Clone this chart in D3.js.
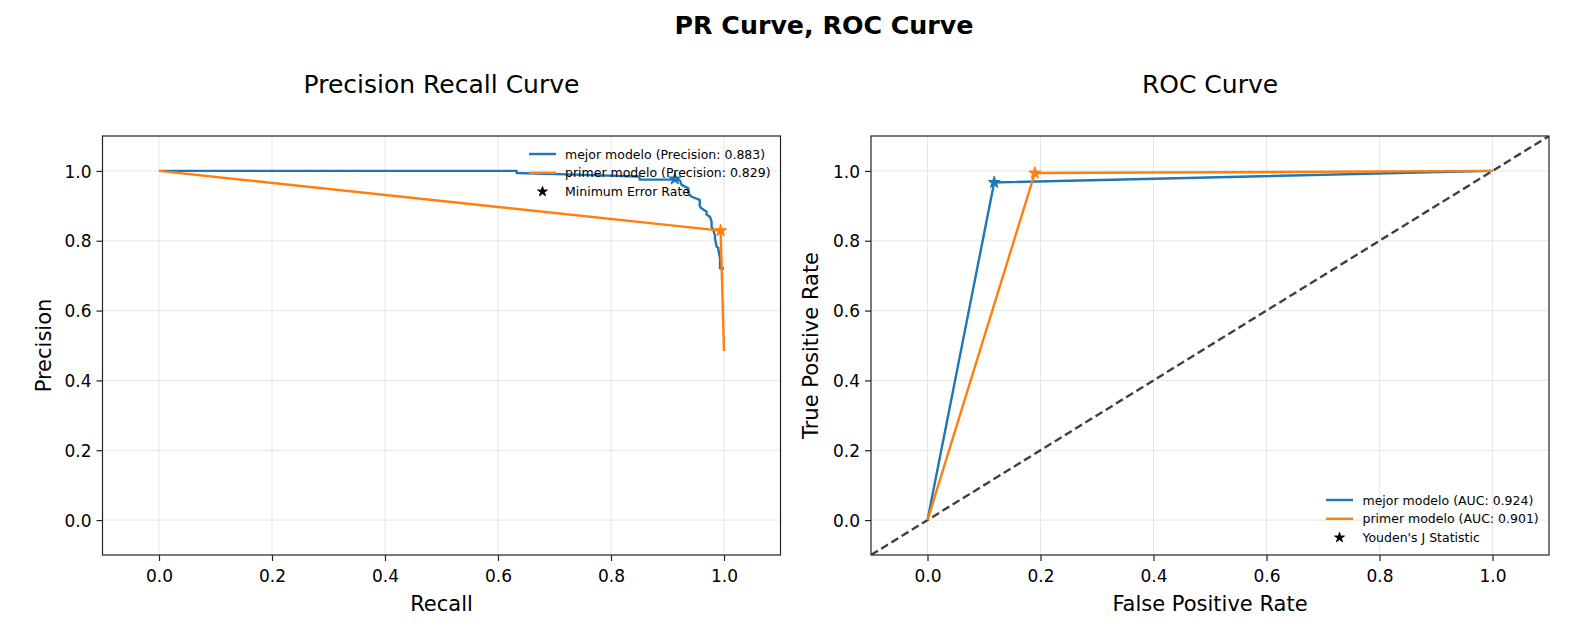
<!DOCTYPE html>
<html>
<head>
<meta charset="utf-8">
<script src="https://cdn.jsdelivr.net/npm/d3@7"></script>
<style>
  body { margin: 0; background: #fff; }
  svg { display: block; }
  text { font-family: "DejaVu Sans", sans-serif; fill: #000; }
</style>
</head>
<body>
<svg id="chart" width="1588" height="639"></svg>
<script>
// ---------- DATA ----------
const tickValues = [0.0, 0.2, 0.4, 0.6, 0.8, 1.0];
const tickLabels = ["0.0", "0.2", "0.4", "0.6", "0.8", "1.0"];

// PR curve - mejor modelo
const prBestRecall    = [0, 0.633, 0.633, 0.72, 0.85, 0.851, 0.913, 0.922, 0.925, 0.937, 0.937, 0.943, 0.957, 0.957, 0.960, 0.969, 0.969, 0.975, 0.978, 0.978, 0.981, 0.984, 0.984, 0.987, 0.990, 0.990, 0.993, 0.993, 1.0];
const prBestPrecision = [1.0, 1.0, 0.994, 0.990, 0.984, 0.975, 0.975, 0.973, 0.960, 0.950, 0.935, 0.926, 0.917, 0.900, 0.893, 0.884, 0.875, 0.869, 0.855, 0.840, 0.831, 0.815, 0.807, 0.783, 0.780, 0.774, 0.750, 0.721, 0.721];
// PR curve - primer modelo
const prFirstRecall    = [0, 0.994, 1.0];
const prFirstPrecision = [1.0, 0.829, 0.484];
// Minimum error rate points [recall, precision]
const prStarBest  = [0.913, 0.977];
const prStarFirst = [0.994, 0.829];

// ROC curve
const rocBestFpr  = [0, 0.118, 1.0];
const rocBestTpr  = [0, 0.967, 1.0];
const rocFirstFpr = [0, 0.190, 1.0];
const rocFirstTpr = [0, 0.994, 1.0];
const rocStarBest  = [0.118, 0.967];
const rocStarFirst = [0.190, 0.994];
const diagonal = [[-0.1, -0.1], [1.1, 1.1]];

const prLegend  = ["mejor modelo (Precision: 0.883)", "primer modelo (Precision: 0.829)", "Minimum Error Rate"];
const rocLegend = ["mejor modelo (AUC: 0.924)", "primer modelo (AUC: 0.901)", "Youden's J Statistic"];

const BLUE = "#1f77b4", ORANGE = "#ff7f0e";
const LW = 2.4;

// ---------- LAYOUT ----------
const svg = d3.select("#chart");
const yTop = 136, yBottom = 555;
const panels = [
  { x0: 102.5, x1: 780.5, title: "Precision Recall Curve", xlabel: "Recall", ylabel: "Precision", ylabelX: 51 },
  { x0: 871,   x1: 1549,  title: "ROC Curve", xlabel: "False Positive Rate", ylabel: "True Positive Rate", ylabelX: 817.5 }
];

svg.append("text").attr("x", 824).attr("y", 34).attr("text-anchor", "middle")
  .style("font-size", "25.3px").style("font-weight", "bold").text("PR Curve, ROC Curve");

const star = (r) => d3.symbol().type(d3.symbolStar).size(r * r / 0.8908130915292852)();

function drawPanel(p, idx) {
  const x = d3.scaleLinear().domain([-0.1, 1.1]).range([p.x0, p.x1]);
  const y = d3.scaleLinear().domain([-0.1, 1.1]).range([yBottom, yTop]);
  const g = svg.append("g");
  const clipId = "clip" + idx;
  svg.append("defs").append("clipPath").attr("id", clipId).append("rect")
    .attr("x", p.x0).attr("y", yTop).attr("width", p.x1 - p.x0).attr("height", yBottom - yTop);

  // grid
  g.append("g").selectAll("line").data(tickValues).join("line")
    .attr("x1", d => x(d)).attr("x2", d => x(d)).attr("y1", yTop).attr("y2", yBottom)
    .attr("stroke", "#b0b0b0").attr("stroke-opacity", 0.3).attr("stroke-width", 1);
  g.append("g").selectAll("line").data(tickValues).join("line")
    .attr("y1", d => y(d)).attr("y2", d => y(d)).attr("x1", p.x0).attr("x2", p.x1)
    .attr("stroke", "#b0b0b0").attr("stroke-opacity", 0.3).attr("stroke-width", 1);

  // axes
  const xAxis = d3.axisBottom(x).tickValues(tickValues).tickFormat((d, i) => tickLabels[i]).tickSize(6).tickPadding(9);
  const yAxis = d3.axisLeft(y).tickValues(tickValues).tickFormat((d, i) => tickLabels[i]).tickSize(6).tickPadding(5);
  const gx = g.append("g").attr("transform", `translate(0,${yBottom})`).call(xAxis);
  const gy = g.append("g").attr("transform", `translate(${p.x0},0)`).call(yAxis);
  [gx, gy].forEach(a => {
    a.select(".domain").remove();
    a.selectAll(".tick line").attr("stroke", "#222").attr("stroke-width", 1.2);
    a.selectAll(".tick text").style("font-size", "17px").style("font-family", "DejaVu Sans").attr("fill", "#000");
  });
  gx.selectAll(".tick text").attr("dy", "0.72em");
  gy.selectAll(".tick text").attr("dy", "0.36em");

  // titles & labels
  svg.append("text").attr("x", (p.x0 + p.x1) / 2).attr("y", 93).attr("text-anchor", "middle")
    .style("font-size", "25px").text(p.title);
  svg.append("text").attr("x", (p.x0 + p.x1) / 2).attr("y", 611).attr("text-anchor", "middle")
    .style("font-size", "21px").text(p.xlabel);
  svg.append("text").attr("transform", `translate(${p.ylabelX},${(yTop + yBottom) / 2}) rotate(-90)`)
    .attr("text-anchor", "middle").style("font-size", "21px").text(p.ylabel);

  const plot = svg.append("g").attr("clip-path", `url(#${clipId})`);
  const line = d3.line().x(d => x(d[0])).y(d => y(d[1]));
  return { x, y, plot, line };
}

function drawLegend(labels, handleX0, textX, rowY) {
  const lg = svg.append("g");
  const colors = [BLUE, ORANGE];
  labels.forEach((lab, i) => {
    const yy = rowY + i * 18.8;
    if (i < 2) {
      lg.append("line").attr("x1", handleX0).attr("x2", handleX0 + 27).attr("y1", yy).attr("y2", yy)
        .attr("stroke", colors[i]).attr("stroke-width", LW);
    } else {
      lg.append("path").attr("d", star(5.3)).attr("transform", `translate(${handleX0 + 13.5},${yy})`)
        .attr("fill", "#000").attr("stroke", "#000").attr("stroke-width", 0.8);
    }
    lg.append("text").attr("x", textX).attr("y", yy).attr("dy", "0.36em").style("font-size", "12.5px").text(lab);
  });
}

// ---------- PR PANEL ----------
const pr = drawPanel(panels[0], 0);
pr.plot.append("path").datum(prBestRecall.map((r, i) => [r, prBestPrecision[i]]))
  .attr("d", pr.line).attr("fill", "none").attr("stroke", BLUE).attr("stroke-width", LW).attr("stroke-linejoin", "round");
pr.plot.append("path").datum(prFirstRecall.map((r, i) => [r, prFirstPrecision[i]]))
  .attr("d", pr.line).attr("fill", "none").attr("stroke", ORANGE).attr("stroke-width", LW).attr("stroke-linejoin", "round");
[[prStarBest, BLUE], [prStarFirst, ORANGE]].forEach(([s, c]) => {
  svg.append("path").attr("d", star(6.3)).attr("transform", `translate(${pr.x(s[0])},${pr.y(s[1])})`)
    .attr("fill", c).attr("stroke", c).attr("stroke-width", 1);
});

// ---------- ROC PANEL ----------
const roc = drawPanel(panels[1], 1);
roc.plot.append("path").datum(diagonal).attr("d", roc.line).attr("fill", "none")
  .attr("stroke", "#000").attr("stroke-opacity", 0.75).attr("stroke-width", LW).attr("stroke-dasharray", "8,4");
roc.plot.append("path").datum(rocBestFpr.map((f, i) => [f, rocBestTpr[i]]))
  .attr("d", roc.line).attr("fill", "none").attr("stroke", BLUE).attr("stroke-width", LW).attr("stroke-linejoin", "round");
roc.plot.append("path").datum(rocFirstFpr.map((f, i) => [f, rocFirstTpr[i]]))
  .attr("d", roc.line).attr("fill", "none").attr("stroke", ORANGE).attr("stroke-width", LW).attr("stroke-linejoin", "round");
[[rocStarBest, BLUE], [rocStarFirst, ORANGE]].forEach(([s, c]) => {
  svg.append("path").attr("d", star(6.3)).attr("transform", `translate(${roc.x(s[0])},${roc.y(s[1])})`)
    .attr("fill", c).attr("stroke", c).attr("stroke-width", 1);
});

// spines (drawn last, on top)
panels.forEach(p => {
  svg.append("rect").attr("x", p.x0).attr("y", yTop).attr("width", p.x1 - p.x0).attr("height", yBottom - yTop)
    .attr("fill", "none").attr("stroke", "#222").attr("stroke-width", 1.2);
});

// legends
drawLegend(prLegend, 529, 565, 154);
drawLegend(rocLegend, 1326, 1362.5, 500);
</script>
</body>
</html>
